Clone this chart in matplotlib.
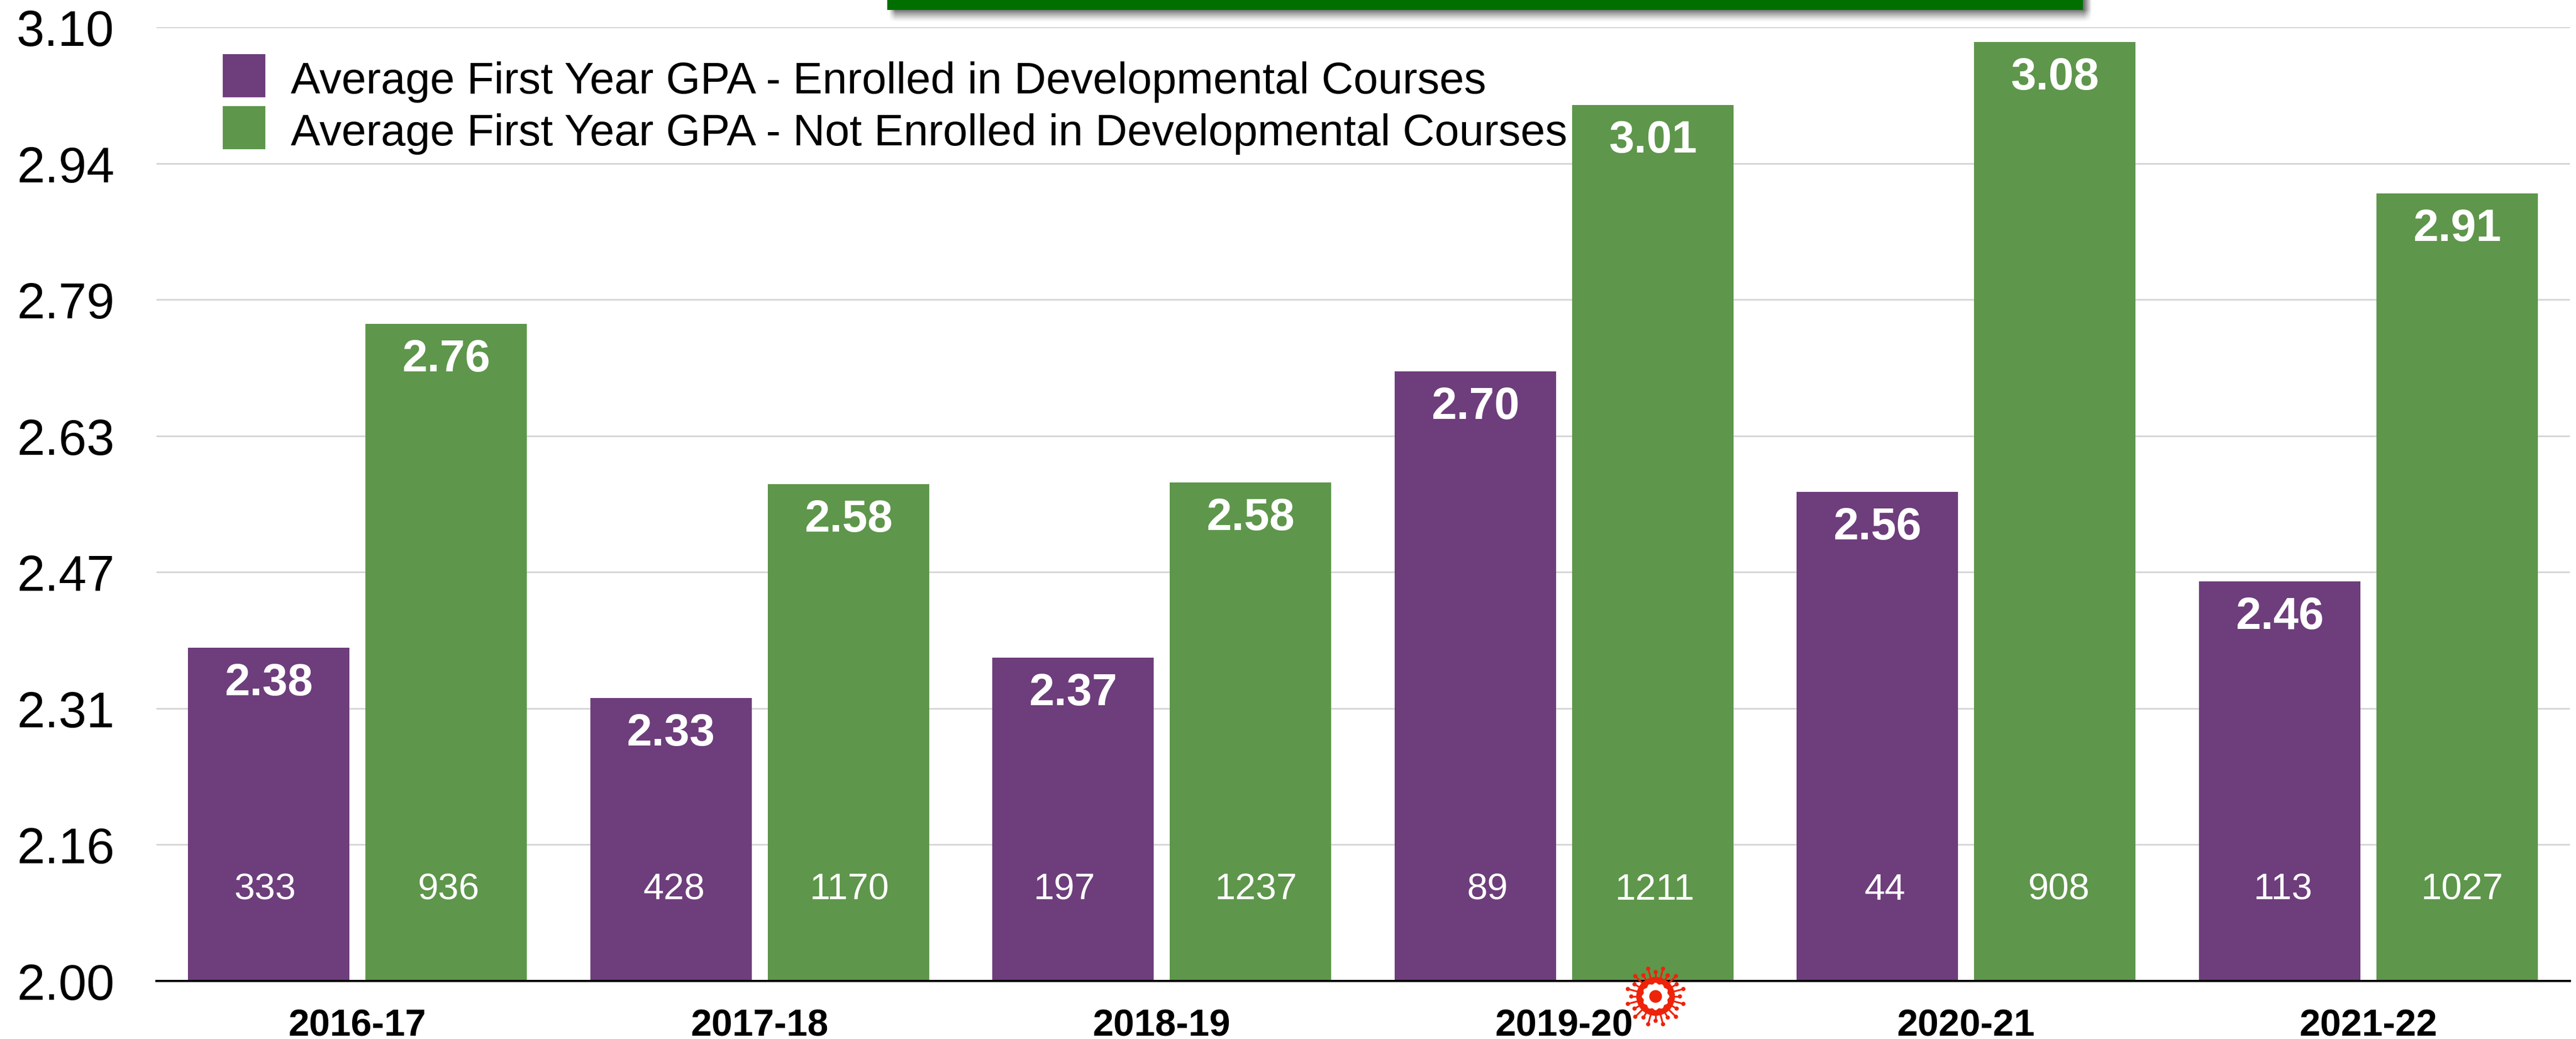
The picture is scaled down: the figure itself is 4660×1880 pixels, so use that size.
import numpy as np
import matplotlib
matplotlib.use("Agg")
import matplotlib.pyplot as plt
from matplotlib.patches import Rectangle, Circle, Polygon

W, H = 4660, 1881
years = ["2016-17", "2017-18", "2018-19", "2019-20", "2020-21", "2021-22"]
gpa_dev = [2.384, 2.326, 2.373, 2.703, 2.564, 2.461]
gpa_not = [2.758, 2.573, 2.575, 3.010, 3.083, 2.908]
gpa_dev_labels = ["2.38", "2.33", "2.37", "2.70", "2.56", "2.46"]
gpa_not_labels = ["2.76", "2.58", "2.58", "3.01", "3.08", "2.91"]
n_dev = [333, 428, 197, 89, 44, 113]
n_not = [936, 1170, 1237, 1211, 908, 1027]
y_tick_labels = ["2.00", "2.16", "2.31", "2.47", "2.63", "2.79", "2.94", "3.10"]
legend_labels = ["Average First Year GPA - Enrolled in Developmental Courses",
                 "Average First Year GPA - Not Enrolled in Developmental Courses"]
PURPLE, GREEN = "#6e3d7c", "#5e964b"
# horizontal nudges (image pixels) of the count labels relative to their bars
n_dev_nudge = [-6, 6, -15, 22, 13, 6]
n_not_nudge = [5, 2, 10, 4, 7, 9]

plt.rcParams["font.family"] = ["Liberation Sans", "DejaVu Sans"]
DPI = 100
px = 72 / DPI
fig = plt.figure(figsize=(W / DPI, H / DPI), dpi=DPI, facecolor="white")

L, R, T, B = 283, 4649, 50, 1776
ax = fig.add_axes([L / W, 1 - B / H, (R - L) / W, (B - T) / H])
ax.set_facecolor("none")
ax.set_ylim(2.0, 3.1)
per, c0 = 727.6, 646.5
ax.set_xlim((L - c0) / per, (R - c0) / per)
yt = np.linspace(2.0, 3.1, 8)
ax.set_yticks(yt, y_tick_labels, fontsize=91 * px)
ax.tick_params(axis="y", length=0, pad=0)
for t in ax.get_yticklabels():
    t.set_ha("left")
    t.set_x((30 - L) / (R - L))
ax.grid(axis="y", color="#d6d6d6", lw=3 * px, zorder=0)
ax.set_axisbelow(True)
for s in ["top", "left", "right"]:
    ax.spines[s].set_visible(False)
ax.spines["bottom"].set_color("black")
ax.spines["bottom"].set_linewidth(4 * px)
ax.spines["bottom"].set_zorder(3)

x = np.arange(len(years))
bw = 292 / per
off = (292 + 29) / 2 / per
ax.bar(x - off, gpa_dev, bw, color=PURPLE, zorder=2)
ax.bar(x + off, gpa_not, bw, color=GREEN, zorder=2)
ax.set_xticks(x, years, fontsize=68 * px, fontweight="bold")
ax.tick_params(axis="x", length=0, pad=49 * px)

lab_drop, n_y = 64 / 1569, 2.0 + (1776 - 1611) / 1569
for xs, vals, labs, ns, nud in [(x - off, gpa_dev, gpa_dev_labels, n_dev, n_dev_nudge),
                                (x + off, gpa_not, gpa_not_labels, n_not, n_not_nudge)]:
    for xi, v, l, c, d in zip(xs, vals, labs, ns, nud):
        ax.text(xi, v - lab_drop, l, color="white", fontsize=82 * px, fontweight="bold",
                ha="center", va="center", zorder=4)
        ax.text(xi + d / per, n_y, str(c), color="white", fontsize=67 * px,
                ha="center", va="center", zorder=4)

# Everything below is placed in image pixels
ov = fig.add_axes([0, 0, 1, 1], zorder=5)
ov.axis("off")
ov.patch.set_alpha(0)

# legend
for y0, col, lab, ty in [(99, PURPLE, legend_labels[0], 148), (193, GREEN, legend_labels[1], 242)]:
    ov.add_patch(Rectangle((403, y0), 77, 78, color=col, lw=0))
    ov.text(526, ty, lab, fontsize=80 * px, color="black", ha="left", va="center")

# banner with soft drop shadow
sx0, sx1, sy1 = 1605, 3785, 41
xx = np.arange(sx0, sx1) + 0.5
yy = np.arange(0, sy1) + 0.5
fx = np.clip((xx - 1608) / 12, 0, 1) * np.clip((3784 - xx) / 14, 0, 1)
fy = np.clip((sy1 - yy) / 22, 0, 1) ** 1.3
rgba = np.zeros((len(yy), len(xx), 4))
rgba[..., 3] = 0.55 * np.outer(fy, fx)
ov.imshow(rgba, extent=(sx0, sx1, sy1, 0), aspect="auto", zorder=1, interpolation="bilinear")
ov.add_patch(Rectangle((1605, 0), 2163, 19, color="#006f00", lw=0, zorder=2))

# virus icon
RED = "#ee2309"
cx, cy = 2995, 1804
for deg, rr in [(15 + 30 * k, 52) for k in range(12)] + [(30 * k, 44) for k in range(12)]:
    a = np.deg2rad(deg)
    ex, ey = cx + rr * np.sin(a), cy - rr * np.cos(a)
    ov.plot([cx, ex], [cy, ey], color=RED, lw=3.2 * px, solid_capstyle="round", zorder=3)
    ov.add_patch(Circle((ex, ey), 3.8, color=RED, lw=0, zorder=3))
ov.add_patch(Circle((cx, cy), 35, color=RED, lw=0, zorder=4))
th = np.linspace(0, 2 * np.pi, 361)
gear = 23.5 + 1.3 * np.cos(12 * th)
ov.add_patch(Polygon(np.c_[cx + gear * np.cos(th), cy + gear * np.sin(th)], color="white", lw=0, zorder=5))
ov.add_patch(Circle((cx, cy), 11.5, color=RED, lw=0, zorder=6))

ov.set_xlim(0, W)
ov.set_ylim(H, 0)

fig.savefig("out.png", dpi=DPI)
